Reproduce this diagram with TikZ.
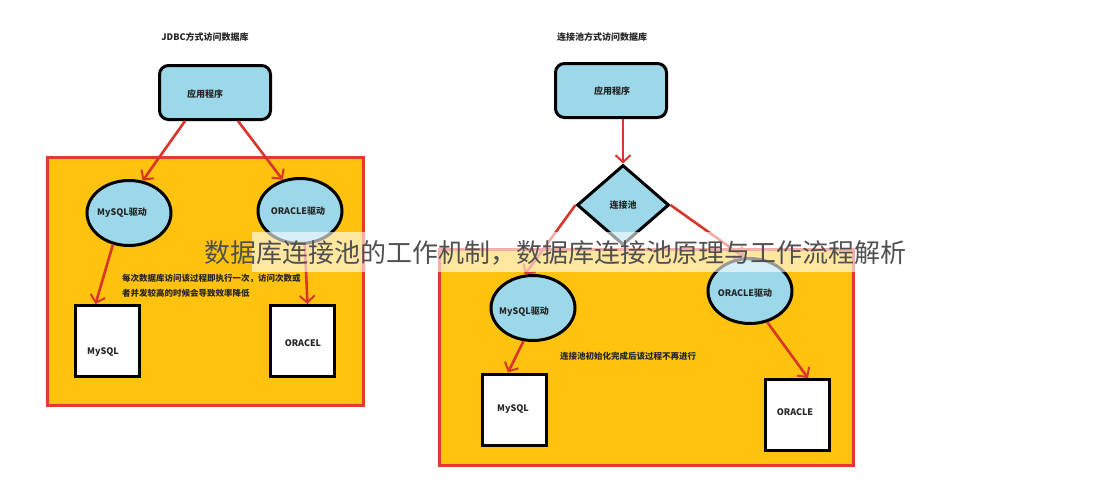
\documentclass[tikz,border=0pt]{standalone}
\usepackage{fontspec}
\setmainfont{Noto Sans CJK SC}
\usetikzlibrary{shapes.geometric,arrows.meta,calc}
\definecolor{lblue}{HTML}{9DD8EA}
\definecolor{ybg}{HTML}{FFC30F}
\definecolor{rborder}{HTML}{E23A2C}
\definecolor{rarrow}{HTML}{D8352B}
\definecolor{wmgray}{HTML}{505050}
\tikzset{
  panel/.style={draw=rborder,line width=3pt,fill=ybg},
  appbox/.style={draw=black,line width=3pt,fill=lblue,rounded corners=9pt,minimum width=111pt,minimum height=54pt,inner sep=0pt},
  drv/.style={ellipse,draw=black,line width=3pt,fill=lblue,minimum width=84pt,minimum height=65pt,inner sep=0pt},
  dbbox/.style={draw=black,line width=3pt,fill=white,minimum width=64pt,minimum height=71pt,inner sep=0pt},
  pool/.style={diamond,draw=black,line width=3pt,fill=lblue,minimum width=92pt,minimum height=80pt,inner sep=0pt},
  lbl/.style={font=\bfseries\fontsize{9}{11}\selectfont,text=black!85,inner sep=0pt},
  note/.style={font=\bfseries\fontsize{8.5}{15}\selectfont,text=black!85,inner sep=0pt,align=left,anchor=west},
  conn/.style={draw=rarrow,line width=2.6pt,-{Straight Barb[length=7pt,width=15pt,line width=2pt]}},
}
\begin{document}
\begin{tikzpicture}[x=1pt,y=-1pt]
\useasboundingbox[fill=white] (0,0) rectangle (1110,490);
% panels
\path[panel] (47,157) rectangle (363,405);
\path[panel] (439,249) rectangle (853,465);
% titles
\node[lbl] (t1) at (205,37) {JDBC方式访问数据库};
\node[lbl] (t2) at (602,37) {连接池方式访问数据库};
% left diagram
\node[appbox] (app1) at (215,92.5) {};
\node[lbl] (app1t) at (205,94) {应用程序};
\node[drv] (dm1) at (129,213) {};
\node[lbl] (dm1t) at (122,213) {MySQL驱动};
\node[drv] (do1) at (300,211) {};
\node[lbl] (do1t) at (298,211) {ORACLE驱动};
\node[dbbox] (bm1) at (107.5,341) {};
\node[lbl] (bm1t) at (103,352) {MySQL};
\node[dbbox] (bo1) at (302.5,341) {};
\node[lbl] (bo1t) at (303,343) {ORACEL};
\node[note] (n1) at (122,285.5) {每次数据库访问该过程即执行一次，访问次数或\\者并发较高的时候会导致效率降低};
\draw[conn] ($(app1.south)+(-30,0)$) -- (dm1.67);
\draw[conn] ($(app1.south)+(23,0)$) -- (do1.119);
\draw[conn] (dm1.-117) -- ($(bm1.north)+(-12,0)$);
\draw[conn] (do1.-82) -- ($(bo1.north)+(5,0)$);
% right diagram
\node[appbox] (app2) at (611,90.5) {};
\node[lbl] (app2t) at (612,91) {应用程序};
\node[pool] (pool) at (623,205) {};
\node[lbl] (poolt) at (623,205) {连接池};
\node[drv] (dm2) at (533,308) {};
\node[lbl] (dm2t) at (524,312) {MySQL驱动};
\node[drv] (do2) at (750,291) {};
\node[lbl] (do2t) at (745,293) {ORACLE驱动};
\node[dbbox] (bm2) at (514,409.5) {};
\node[lbl] (bm2t) at (513,409) {MySQL};
\node[dbbox] (bo2) at (797,415) {};
\node[lbl] (bo2t) at (795,412) {ORACLE};
\node[note] (n2) at (560,356) {连接池初始化完成后该过程不再进行};
\draw[conn] ($(app2.south)+(12,0)$) -- (pool.north);
\draw[conn] (pool.west) -- (dm2.104);
\draw[conn] (pool.east) -- (do2.100);
\draw[conn] (dm2.-106) -- ($(bm2.north)+(-6,0)$);
\draw[conn] (do2.-61) -- ($(bo2.north)+(11,0)$);
% watermark
\path[fill=white,fill opacity=0.6] (252,232) rectangle (862,272);
\node[font=\fontsize{26}{30}\selectfont,text=wmgray,inner sep=0pt] (wm) at (555,253) {数据库连接池的工作机制，数据库连接池原理与工作流程解析};
\end{tikzpicture}
\end{document}
